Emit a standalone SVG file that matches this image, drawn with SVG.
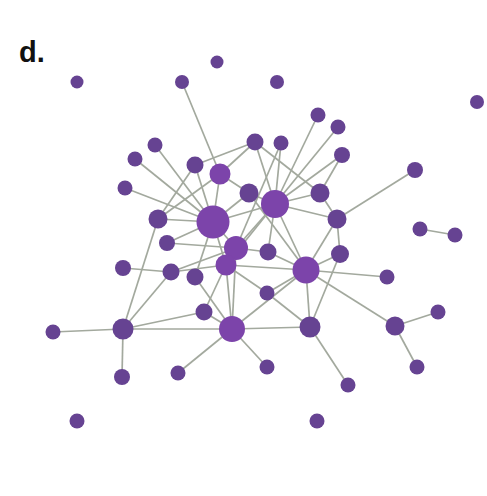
<svg xmlns="http://www.w3.org/2000/svg" width="487" height="496" viewBox="0 0 487 496">
<style>
.e{stroke:#a3a99e;stroke-width:1.7;fill:none}
.n circle{fill:#664392}
.b circle{fill:#7c44aa}
.t{font-family:"Liberation Sans",Arial,sans-serif;font-weight:bold;font-size:29px;fill:#111}
</style>
<rect width="487" height="496" fill="#ffffff"/>
<text class="t" x="19" y="62">d.</text>
<g id="edges" class="e">
<line x1="182" y1="82" x2="220" y2="174"/>
<line x1="155" y1="145" x2="213" y2="222"/>
<line x1="135" y1="159" x2="213" y2="222"/>
<line x1="125" y1="188" x2="213" y2="222"/>
<line x1="195" y1="165" x2="213" y2="222"/>
<line x1="195" y1="165" x2="158" y2="219"/>
<line x1="255" y1="142" x2="195" y2="165"/>
<line x1="255" y1="142" x2="220" y2="174"/>
<line x1="255" y1="142" x2="320" y2="193"/>
<line x1="255" y1="142" x2="275" y2="204"/>
<line x1="281" y1="143" x2="236" y2="248"/>
<line x1="281" y1="143" x2="275" y2="204"/>
<line x1="318" y1="115" x2="275" y2="204"/>
<line x1="338" y1="127" x2="275" y2="204"/>
<line x1="342" y1="155" x2="275" y2="204"/>
<line x1="342" y1="155" x2="320" y2="193"/>
<line x1="415" y1="170" x2="337" y2="219"/>
<line x1="420" y1="229" x2="455" y2="235"/>
<line x1="275" y1="204" x2="320" y2="193"/>
<line x1="275" y1="204" x2="337" y2="219"/>
<line x1="275" y1="204" x2="306" y2="270"/>
<line x1="275" y1="204" x2="249" y2="193"/>
<line x1="275" y1="204" x2="213" y2="222"/>
<line x1="275" y1="204" x2="236" y2="248"/>
<line x1="275" y1="204" x2="268" y2="252"/>
<line x1="275" y1="204" x2="226" y2="265"/>
<line x1="213" y1="222" x2="158" y2="219"/>
<line x1="213" y1="222" x2="167" y2="243"/>
<line x1="213" y1="222" x2="236" y2="248"/>
<line x1="213" y1="222" x2="226" y2="265"/>
<line x1="213" y1="222" x2="220" y2="174"/>
<line x1="213" y1="222" x2="249" y2="193"/>
<line x1="213" y1="222" x2="195" y2="277"/>
<line x1="220" y1="174" x2="249" y2="193"/>
<line x1="220" y1="174" x2="158" y2="219"/>
<line x1="167" y1="243" x2="236" y2="248"/>
<line x1="123" y1="268" x2="171" y2="272"/>
<line x1="171" y1="272" x2="226" y2="265"/>
<line x1="171" y1="272" x2="236" y2="248"/>
<line x1="123" y1="329" x2="53" y2="332"/>
<line x1="123" y1="329" x2="122" y2="377"/>
<line x1="123" y1="329" x2="232" y2="329"/>
<line x1="123" y1="329" x2="204" y2="312"/>
<line x1="123" y1="329" x2="171" y2="272"/>
<line x1="123" y1="329" x2="158" y2="219"/>
<line x1="232" y1="329" x2="178" y2="373"/>
<line x1="232" y1="329" x2="310" y2="327"/>
<line x1="232" y1="329" x2="204" y2="312"/>
<line x1="232" y1="329" x2="267" y2="367"/>
<line x1="232" y1="329" x2="226" y2="265"/>
<line x1="232" y1="329" x2="236" y2="248"/>
<line x1="232" y1="329" x2="306" y2="270"/>
<line x1="232" y1="329" x2="195" y2="277"/>
<line x1="306" y1="270" x2="387" y2="277"/>
<line x1="306" y1="270" x2="310" y2="327"/>
<line x1="306" y1="270" x2="267" y2="293"/>
<line x1="306" y1="270" x2="395" y2="326"/>
<line x1="306" y1="270" x2="340" y2="254"/>
<line x1="306" y1="270" x2="226" y2="265"/>
<line x1="306" y1="270" x2="337" y2="219"/>
<line x1="306" y1="270" x2="249" y2="193"/>
<line x1="267" y1="293" x2="310" y2="327"/>
<line x1="267" y1="293" x2="226" y2="265"/>
<line x1="310" y1="327" x2="348" y2="385"/>
<line x1="310" y1="327" x2="340" y2="254"/>
<line x1="340" y1="254" x2="337" y2="219"/>
<line x1="337" y1="219" x2="320" y2="193"/>
<line x1="395" y1="326" x2="438" y2="312"/>
<line x1="395" y1="326" x2="417" y2="367"/>
<line x1="236" y1="248" x2="268" y2="252"/>
<line x1="226" y1="265" x2="236" y2="248"/>
<line x1="268" y1="252" x2="306" y2="270"/>
<line x1="204" y1="312" x2="226" y2="265"/>
</g>
<g id="n1" class="n"><circle cx="77" cy="82" r="6.5"/></g>
<g id="n2" class="n"><circle cx="182" cy="82" r="7"/></g>
<g id="n3" class="n"><circle cx="217" cy="62" r="6.5"/></g>
<g id="n4" class="n"><circle cx="277" cy="82" r="7"/></g>
<g id="n5" class="n"><circle cx="477" cy="102" r="7"/></g>
<g id="n6" class="n"><circle cx="318" cy="115" r="7.5"/></g>
<g id="n7" class="n"><circle cx="338" cy="127" r="7.5"/></g>
<g id="n8" class="n"><circle cx="342" cy="155" r="8"/></g>
<g id="n9" class="n"><circle cx="255" cy="142" r="8.5"/></g>
<g id="n10" class="n"><circle cx="281" cy="143" r="7.5"/></g>
<g id="n11" class="n"><circle cx="155" cy="145" r="7.5"/></g>
<g id="n12" class="n"><circle cx="135" cy="159" r="7.5"/></g>
<g id="n13" class="n"><circle cx="195" cy="165" r="8.5"/></g>
<g id="n14" class="b"><circle cx="220" cy="174" r="10.5"/></g>
<g id="n15" class="n"><circle cx="125" cy="188" r="7.5"/></g>
<g id="n16" class="n"><circle cx="249" cy="193" r="9.5"/></g>
<g id="n17" class="b"><circle cx="275" cy="204" r="14"/></g>
<g id="n18" class="n"><circle cx="320" cy="193" r="9.5"/></g>
<g id="n19" class="n"><circle cx="415" cy="170" r="8"/></g>
<g id="n20" class="b"><circle cx="213" cy="222" r="16.5"/></g>
<g id="n21" class="n"><circle cx="158" cy="219" r="9.5"/></g>
<g id="n22" class="n"><circle cx="337" cy="219" r="9.5"/></g>
<g id="n23" class="n"><circle cx="167" cy="243" r="8"/></g>
<g id="n24" class="b"><circle cx="236" cy="248" r="12"/></g>
<g id="n25" class="n"><circle cx="268" cy="252" r="8.5"/></g>
<g id="n26" class="n"><circle cx="340" cy="254" r="9"/></g>
<g id="n27" class="n"><circle cx="420" cy="229" r="7.5"/></g>
<g id="n28" class="n"><circle cx="455" cy="235" r="7.5"/></g>
<g id="n29" class="n"><circle cx="123" cy="268" r="8"/></g>
<g id="n30" class="n"><circle cx="171" cy="272" r="8.5"/></g>
<g id="n31" class="n"><circle cx="195" cy="277" r="8.5"/></g>
<g id="n32" class="b"><circle cx="226" cy="265" r="10.5"/></g>
<g id="n33" class="b"><circle cx="306" cy="270" r="13.5"/></g>
<g id="n34" class="n"><circle cx="387" cy="277" r="7.5"/></g>
<g id="n35" class="n"><circle cx="267" cy="293" r="7.5"/></g>
<g id="n36" class="n"><circle cx="204" cy="312" r="8.5"/></g>
<g id="n37" class="n"><circle cx="438" cy="312" r="7.5"/></g>
<g id="n38" class="n"><circle cx="53" cy="332" r="7.5"/></g>
<g id="n39" class="n"><circle cx="123" cy="329" r="10.5"/></g>
<g id="n40" class="b"><circle cx="232" cy="329" r="13"/></g>
<g id="n41" class="n"><circle cx="310" cy="327" r="10.5"/></g>
<g id="n42" class="n"><circle cx="395" cy="326" r="9.5"/></g>
<g id="n43" class="n"><circle cx="122" cy="377" r="8"/></g>
<g id="n44" class="n"><circle cx="178" cy="373" r="7.5"/></g>
<g id="n45" class="n"><circle cx="267" cy="367" r="7.5"/></g>
<g id="n46" class="n"><circle cx="417" cy="367" r="7.5"/></g>
<g id="n47" class="n"><circle cx="348" cy="385" r="7.5"/></g>
<g id="n48" class="n"><circle cx="77" cy="421" r="7.5"/></g>
<g id="n49" class="n"><circle cx="317" cy="421" r="7.5"/></g>
</svg>
